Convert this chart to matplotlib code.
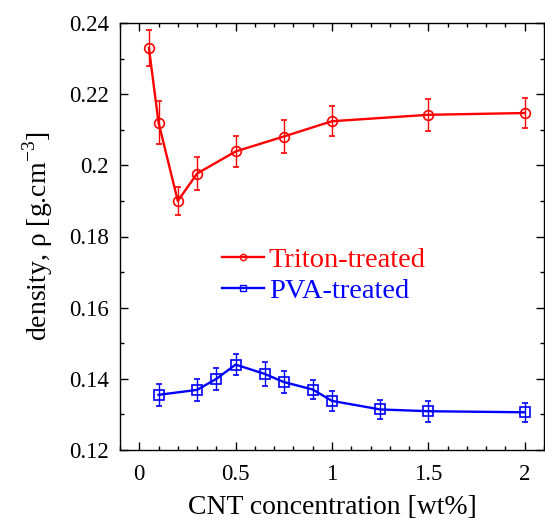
import matplotlib
matplotlib.use("Agg")
import matplotlib.pyplot as plt
from matplotlib.ticker import MultipleLocator
from matplotlib.lines import Line2D

# Triton-treated
triton_x = [0.05, 0.1, 0.2, 0.3, 0.5, 0.75, 1.0, 1.5, 2.0]
triton_y = [0.233, 0.212, 0.190, 0.1977, 0.2039, 0.2081, 0.2124, 0.2142, 0.2147]
triton_err = [0.005, 0.006, 0.004, 0.0047, 0.0044, 0.0045, 0.0042, 0.0045, 0.0043]

# PVA-treated
pva_x = [0.1, 0.3, 0.4, 0.5, 0.65, 0.75, 0.9, 1.0, 1.25, 1.5, 2.0]
pva_y = [0.1355, 0.1369, 0.1400, 0.1440, 0.1414, 0.1391, 0.1370, 0.1338, 0.1314, 0.1309, 0.1306]
pva_err = [0.003, 0.003, 0.003, 0.003, 0.0033, 0.003, 0.0027, 0.0027, 0.0026, 0.003, 0.0027]

plt.rcParams['font.family'] = ['Liberation Serif', 'DejaVu Serif']
plt.rcParams['mathtext.fontset'] = 'custom'
plt.rcParams['mathtext.rm'] = 'Liberation Serif'

fig = plt.figure(figsize=(5.45, 5.23), dpi=100)
ax = fig.add_axes([120/545, 73/523, 424/545, 427/523])

red = '#ff0000'
blue = '#0000ff'

ax.errorbar(triton_x, triton_y, yerr=triton_err, color=red, lw=1.7, marker='o',
            ms=7, mfc='none', mec=red, mew=1.2, ecolor=red, elinewidth=1.0,
            capsize=2.5, capthick=1.0)
ax.errorbar(pva_x, pva_y, yerr=pva_err, color=blue, lw=1.7, marker='s',
            ms=6.5, mfc='none', mec=blue, mew=1.2, ecolor=blue, elinewidth=1.0,
            capsize=2.5, capthick=1.0)

ax.set_xlim(-0.1, 2.1)
ax.set_ylim(0.12, 0.24)
ax.xaxis.set_minor_locator(MultipleLocator(0.1))
ax.yaxis.set_minor_locator(MultipleLocator(0.01))
ax.set_xticks([0, 0.5, 1, 1.5, 2])
ax.set_xticklabels(['0', '0.5', '1', '1.5', '2'])
ax.set_yticks([0.12, 0.14, 0.16, 0.18, 0.2, 0.22, 0.24])
ax.set_yticklabels(['0.12', '0.14', '0.16', '0.18', '0.2', '0.22', '0.24'])
ax.tick_params(which='both', direction='in', top=True, right=True, labelsize=16.5, width=1)
ax.tick_params(which='major', length=6)
ax.tick_params(which='minor', length=3)
ax.tick_params(axis='x', pad=10)
ax.tick_params(axis='y', pad=8)
for s in ax.spines.values():
    s.set_linewidth(1.0)

ax.set_xlabel('CNT concentration [wt%]', fontsize=20, labelpad=7)
ax.set_ylabel(r'density, ρ [g.cm$^{\mathrm{-3}}$]', fontsize=20, labelpad=10)

handles = [Line2D([], [], color=red, lw=1.7, marker='o', ms=4.5, mfc='none', mec=red, mew=1.0),
           Line2D([], [], color=blue, lw=1.7, marker='s', ms=4.5, mfc='none', mec=blue, mew=1.0)]
leg = ax.legend(handles, ['Triton-treated', 'PVA-treated'], loc='upper left',
                bbox_to_anchor=(0.24, 0.475), frameon=False,
                fontsize=20.5, handlelength=1.5, handletextpad=0.15,
                labelspacing=0.17, borderpad=0, borderaxespad=0)
for t, c in zip(leg.get_texts(), [red, blue]):
    t.set_color(c)

fig.savefig('out.png', dpi=100)
